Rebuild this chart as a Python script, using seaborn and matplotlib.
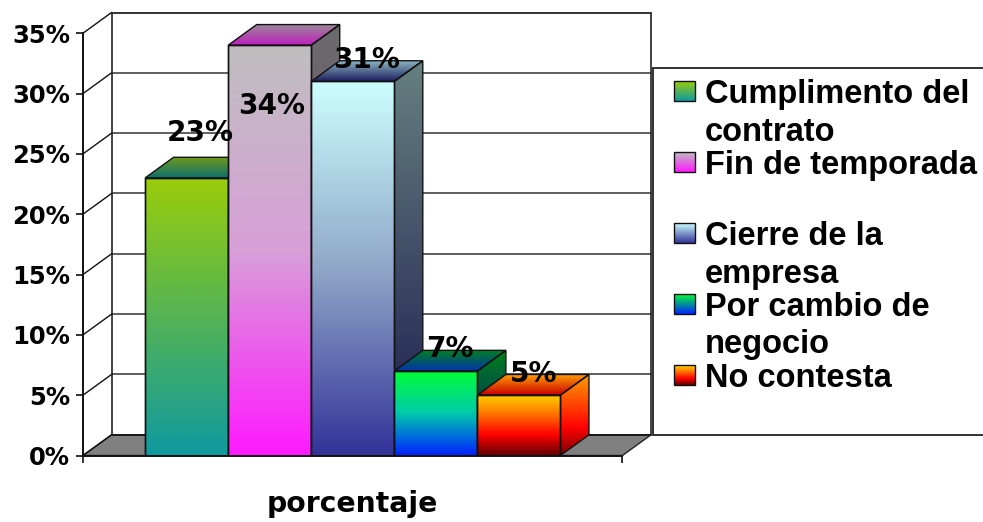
#!/usr/bin/env python
"""Excel style pseudo-3D bar chart of termination reasons, drawn over seaborn bars."""

import matplotlib

matplotlib.use("Agg")
import matplotlib.pyplot as plt
import numpy as np
import pandas as pd
import seaborn as sns
from matplotlib.colors import LinearSegmentedColormap
from matplotlib.patches import Polygon, Rectangle

CATEGORIES = ["Cumplimiento", "Fin", "Cierre", "Cambio", "No contesta"]
VALUES = [23, 34, 31, 7, 5]
VALUE_LABELS = ["23%", "34%", "31%", "7%", "5%"]
Y_TICKS = [0, 5, 10, 15, 20, 25, 30, 35]
Y_TICK_LABELS = ["0%", "5%", "10%", "15%", "20%", "25%", "30%", "35%"]
X_LABEL = "porcentaje"

# label anchors, the source chart has them hand placed
LABEL_X_SHIFT = [0.17, 0.02, 0.17, 0.17, 0.18]
LABEL_Y = [26.7, 29.0, 32.8, 8.8, 6.75]

FRONT_COLORS = [
    ["#9ACD0A", "#0F9A9F"],
    ["#BFBFBF", "#D8A0D8", "#FF19FF"],
    ["#CCFFFF", "#90A8C8", "#333399"],
    ["#00FF33", "#00CCAA", "#0022FF"],
    ["#FFD500", "#FF7000", "#FF0000", "#660000"],
]
TOP_COLORS = [
    ["#6F9A1B", "#0E6F70"],
    ["#9A8A96", "#BE1FBE"],
    ["#8FBBC4", "#1F2060"],
    ["#008020", "#0033AA"],
    ["#FFA000", "#CC0000"],
]
SIDE_COLORS = [
    ["#4D6605", "#084D50"],
    ["#6B6B6B", "#804880"],
    ["#668080", "#1A1A4D"],
    ["#007F1A", "#001180"],
    ["#FFA000", "#FF5000", "#FF0000", "#7F0000"],
]

LEGEND_SWATCHES = [
    ["#9ACD0A", "#0F9A9F"],
    ["#BFBFBF", "#FF19FF"],
    ["#CCFFFF", "#333399"],
    ["#00FF33", "#0022FF"],
    ["#FFD500", "#FF7000", "#FF0000", "#660000"],
]
LEGEND_LINES = [
    ("Cumplimento del", 91),
    ("contrato", 129),
    ("Fin de temporada", 162),
    ("Cierre de la", 233),
    ("empresa", 271),
    ("Por cambio de", 304),
    ("negocio", 341),
    ("No contesta", 375),
]
LEGEND_SWATCH_TOPS = [81, 152, 223, 294, 365]

W, H = 983, 522
PX_X0, PX_X1 = 83, 651  # axes span, pixels
PX_Y0, PX_Y1 = 455.5, 12.5
BAR_PX = 83.0
PCT_PX = 12.07
DEPTH_X = 28.5 / BAR_PX
DEPTH_Y = 20.7 / PCT_PX
FRONT_X0 = -0.5 - 62 / BAR_PX
FRONT_X1 = 4.5 + 62 / BAR_PX


def gradient_face(ax, verts, colors, zorder):
    """Fill a polygon with a vertical gradient and outline it."""
    verts = np.asarray(verts)
    cmap = LinearSegmentedColormap.from_list("face", colors)
    extent = [verts[:, 0].min(), verts[:, 0].max(), verts[:, 1].min(), verts[:, 1].max()]
    img = ax.imshow(
        np.linspace(0, 1, 256)[:, None],
        cmap=cmap,
        vmin=0,
        vmax=1,
        extent=extent,
        origin="upper",
        aspect="auto",
        interpolation="bilinear",
        zorder=zorder,
    )
    clip = Polygon(verts, closed=True, transform=ax.transData)
    img.set_clip_path(clip)
    ax.add_patch(Polygon(verts, closed=True, fill=False, edgecolor="#111111", lw=1.0, zorder=zorder + 0.1))


def draw_walls(ax):
    ax.add_patch(
        Polygon(
            [
                (FRONT_X0, 0),
                (FRONT_X1, 0),
                (FRONT_X1 + DEPTH_X, DEPTH_Y),
                (FRONT_X0 + DEPTH_X, DEPTH_Y),
            ],
            closed=True,
            facecolor="#808080",
            edgecolor="#222222",
            lw=1.0,
            zorder=1,
        )
    )
    for tick in Y_TICKS:
        color = "#111111" if tick in (0, 35) else "#444444"
        ax.plot(
            [FRONT_X0 + DEPTH_X, FRONT_X1 + DEPTH_X],
            [tick + DEPTH_Y, tick + DEPTH_Y],
            color=color,
            lw=1.2,
            clip_on=False,
            zorder=1,
        )
        ax.plot(
            [FRONT_X0, FRONT_X0 + DEPTH_X],
            [tick, tick + DEPTH_Y],
            color="#111111",
            lw=1.0,
            clip_on=False,
            zorder=1,
        )
    for x in (FRONT_X0 + DEPTH_X, FRONT_X1 + DEPTH_X):
        ax.plot([x, x], [DEPTH_Y, 35 + DEPTH_Y], color="#222222", lw=1.2, clip_on=False, zorder=1)


def draw_bars(ax):
    df = pd.DataFrame({"motivo": CATEGORIES, "valor": VALUES})
    sns.barplot(data=df, x="motivo", y="valor", width=1.0, color="white", ax=ax)
    for i, bar in enumerate(ax.containers[0]):
        x0, w, h = bar.get_x(), bar.get_width(), bar.get_height()
        x1 = x0 + w
        z = 3 + i
        bar.set_facecolor("none")
        bar.set_edgecolor("#111111")
        bar.set_linewidth(1.0)
        bar.set_zorder(z + 0.5)
        gradient_face(
            ax,
            [(x0, h), (x1, h), (x1 + DEPTH_X, h + DEPTH_Y), (x0 + DEPTH_X, h + DEPTH_Y)],
            TOP_COLORS[i],
            z,
        )
        gradient_face(
            ax,
            [(x1, 0), (x1 + DEPTH_X, DEPTH_Y), (x1 + DEPTH_X, h + DEPTH_Y), (x1, h)],
            SIDE_COLORS[i],
            z,
        )
        gradient_face(ax, [(x0, 0), (x1, 0), (x1, h), (x0, h)], FRONT_COLORS[i], z + 0.2)
        ax.text(
            i + LABEL_X_SHIFT[i],
            LABEL_Y[i],
            VALUE_LABELS[i],
            ha="center",
            va="center",
            fontsize=20.2,
            fontweight="bold",
            color="black",
            zorder=20,
        )


def draw_legend(fig):
    lax = fig.add_axes([0, 0, 1, 1], facecolor="none")
    lax.set_xlim(0, W)
    lax.set_ylim(H, 0)
    lax.axis("off")
    lax.add_patch(Rectangle((653, 68), 340, 367, facecolor="white", edgecolor="#222222", lw=1.3))
    for top, colors in zip(LEGEND_SWATCH_TOPS, LEGEND_SWATCHES):
        cmap = LinearSegmentedColormap.from_list("swatch", colors)
        lax.imshow(
            np.linspace(0, 1, 64)[:, None],
            cmap=cmap,
            vmin=0,
            vmax=1,
            extent=[674, 695, top + 20, top],
            origin="upper",
            aspect="auto",
            zorder=3,
        )
        lax.add_patch(Rectangle((674, top), 21, 20, fill=False, edgecolor="#111111", lw=1.0, zorder=4))
    for text, y in LEGEND_LINES:
        lax.text(
            705,
            y,
            text,
            family="Liberation Sans",
            fontweight="bold",
            fontsize=23.5,
            ha="left",
            va="center_baseline",
            color="black",
            zorder=5,
        )
    lax.set_xlim(0, W)
    lax.set_ylim(H, 0)


def main():
    sns.set_theme(style="white")
    plt.rcParams["font.family"] = "DejaVu Sans"
    fig = plt.figure(figsize=(W / 100, H / 100), dpi=100, facecolor="white")
    ax = fig.add_axes(
        [PX_X0 / W, (H - PX_Y0) / H, (PX_X1 - PX_X0) / W, (PX_Y0 - PX_Y1) / H],
        facecolor="white",
    )

    draw_walls(ax)
    draw_bars(ax)

    ax.set_xlim(FRONT_X0, FRONT_X1 + DEPTH_X)
    ax.set_ylim(0, 35 + DEPTH_Y)
    for side in ("top", "right"):
        ax.spines[side].set_visible(False)
    ax.spines["left"].set_bounds(0, 35)
    ax.spines["bottom"].set_bounds(FRONT_X0, FRONT_X1)
    for side in ("left", "bottom"):
        ax.spines[side].set_color("#111111")
        ax.spines[side].set_linewidth(1.4)
        ax.spines[side].set_zorder(15)

    ax.set_yticks(Y_TICKS)
    ax.set_yticklabels(Y_TICK_LABELS, fontsize=17.5, fontweight="bold", color="black")
    ax.set_xticks([FRONT_X0, FRONT_X1])
    ax.set_xticklabels(["", ""])
    ax.tick_params(axis="both", length=5, width=1.2, color="#111111", left=True, bottom=True, pad=4.2)
    ax.set_ylabel("")
    ax.set_xlabel(X_LABEL, fontsize=20.3, fontweight="bold", color="black")
    ax.xaxis.set_label_coords(((PX_X0 + 622) / 2 - PX_X0) / (PX_X1 - PX_X0), -34 / (PX_Y0 - PX_Y1))

    draw_legend(fig)
    fig.savefig("out.png", dpi=100)
    plt.close(fig)


if __name__ == "__main__":
    main()
